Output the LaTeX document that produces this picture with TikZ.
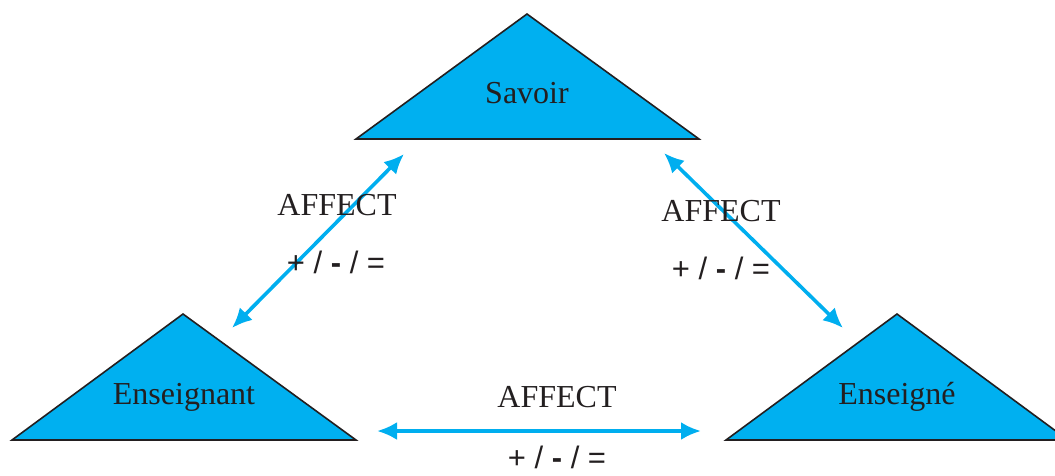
\documentclass[tikz,border=0pt]{standalone}
\usepackage{fontspec}
\setmainfont{Liberation Serif}
\newfontfamily\arialfont{Liberation Sans}
\usetikzlibrary{arrows.meta}
\definecolor{triblue}{HTML}{00B0F0}
\definecolor{arrblue}{HTML}{00AEEF}
\definecolor{txt}{HTML}{231F20}
\tikzset{
  tri/.style={fill=triblue,draw=txt,line width=1.6pt,line join=miter},
  lbl/.style={text=txt,font=\fontsize{32}{36}\selectfont,inner sep=0pt},
  sgn/.style={text=txt,font=\arialfont\fontsize{31}{36}\selectfont,inner sep=0pt},
  rel/.style={draw=arrblue,line width=3.6pt,{Latex[length=20pt,width=18pt]}-{Latex[length=20pt,width=18pt]}},
}
\begin{document}
\begin{tikzpicture}[x=1pt,y=-1pt]
\useasboundingbox (0,0) rectangle (1055,475);
\clip (0,0) rectangle (1055,475);
% triangles
\draw[tri] (356,139) -- (527,14) -- (699,139) -- cycle;
\draw[tri] (12,440) -- (183,314) -- (356,440) -- cycle;
\draw[tri] (726,440) -- (897,314) -- (1068,440) -- cycle;
% names
\node[lbl] (savoir) at (527,93) {Savoir};
\node[lbl] (enseignant) at (184,397) {Enseignant};
\node[lbl] (enseigne) at (897,397) {Enseigné};
% arrow ends
\coordinate (l1) at (232,328);
\coordinate (l2) at (404,154);
\coordinate (r1) at (664,153);
\coordinate (r2) at (843,328);
\coordinate (b1) at (377,431);
\coordinate (b2) at (701,431);
\draw[rel] (l1) -- (l2);
\draw[rel] (r1) -- (r2);
\draw[rel] (b1) -- (b2);
% labels
\node[lbl] (affl) at (337,205) {AFFECT};
\node[sgn] (sgnl) at (336,262) {+ / \textbf{-} / =};
\node[lbl] (affr) at (721,211) {AFFECT};
\node[sgn] (sgnr) at (721,268) {+ / \textbf{-} / =};
\node[lbl] (affb) at (557,397) {AFFECT};
\node[sgn] (sgnb) at (557,457) {+ / \textbf{-} / =};
\end{tikzpicture}
\end{document}
